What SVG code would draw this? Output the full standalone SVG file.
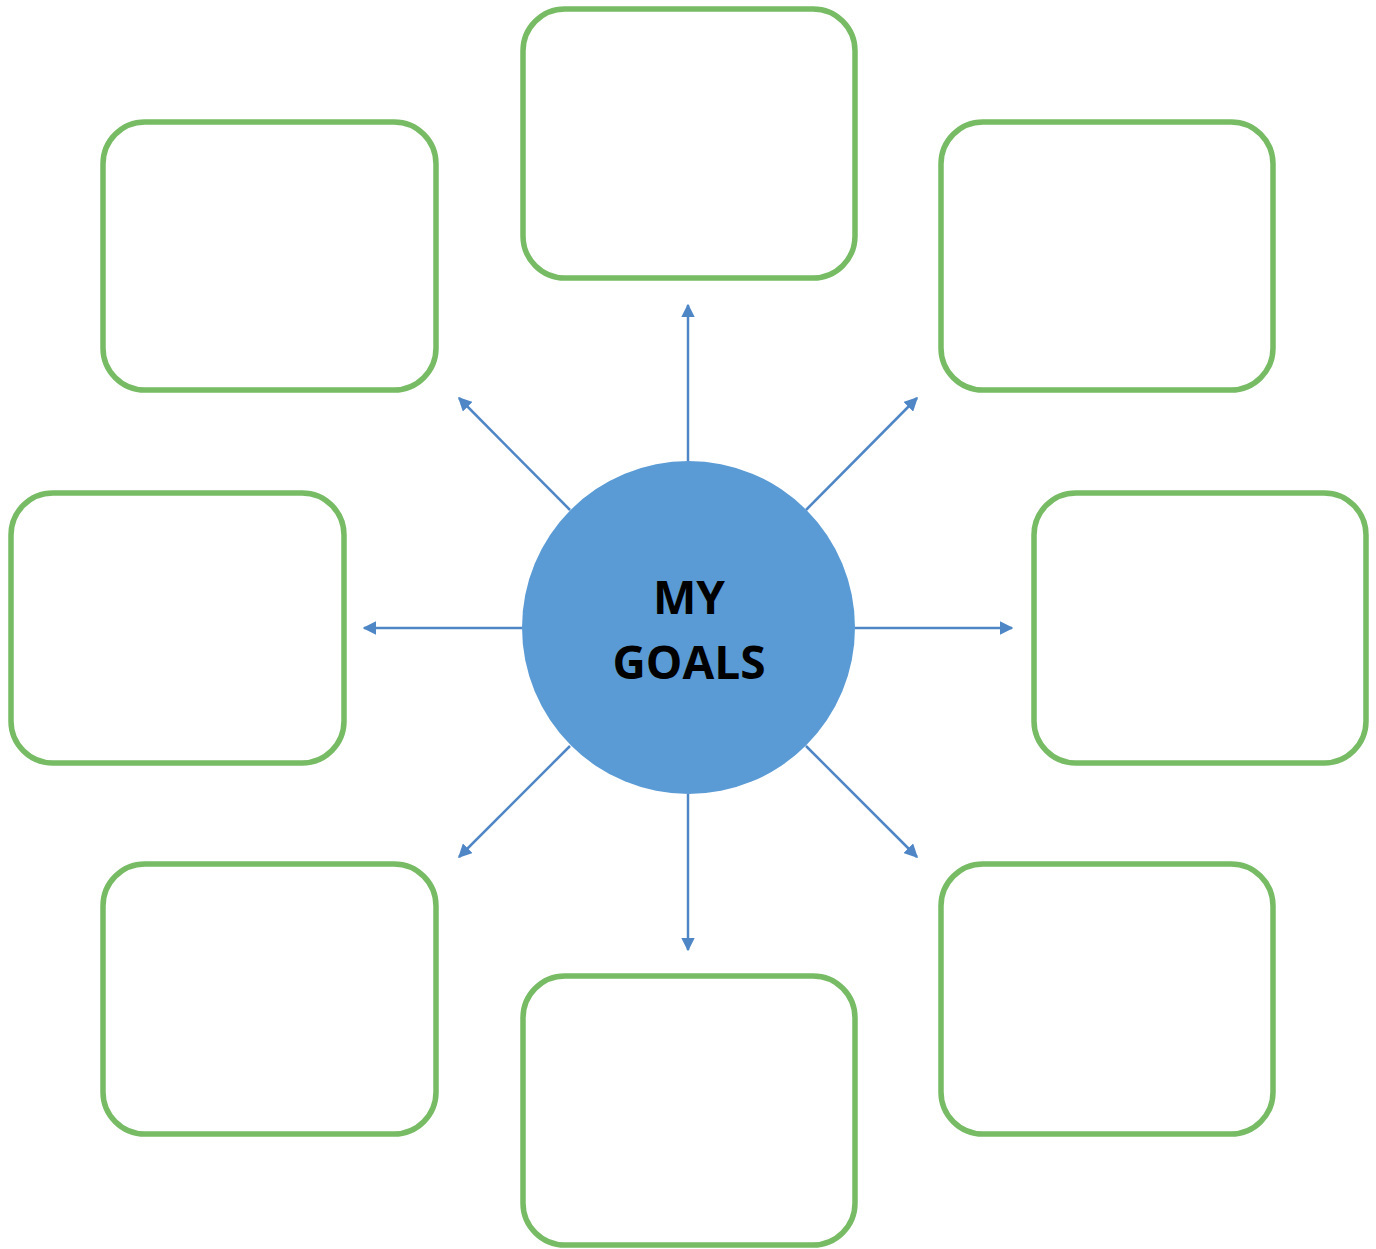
<svg xmlns="http://www.w3.org/2000/svg" width="1376" height="1249" viewBox="0 0 1376 1249">
<style>
.box{fill:#fff;stroke:#77bc65;stroke-width:5.5}
.arr{stroke:#4f86c6;stroke-width:2.5;fill:none;marker-end:url(#ah)}
.lbl{font-family:"Open Sans","Liberation Sans",sans-serif;font-weight:bold;font-size:46px;fill:#000;text-anchor:middle}
</style>
<defs>
<marker id="ah" viewBox="0 0 10 10" refX="9" refY="5" markerWidth="5.5" markerHeight="5.5" orient="auto" markerUnits="strokeWidth">
<path d="M0,0 L10,5 L0,10 z" fill="#4f86c6"/>
</marker>
</defs>
<rect width="1376" height="1249" fill="#fff"/>
<g id="connectors">
<line class="arr" x1="688" y1="461" x2="688" y2="305"/>
<line class="arr" x1="688" y1="794" x2="688" y2="950"/>
<line class="arr" x1="522" y1="628" x2="364" y2="628"/>
<line class="arr" x1="855" y1="628" x2="1012" y2="628"/>
<line class="arr" x1="570" y1="510" x2="459" y2="398"/>
<line class="arr" x1="806" y1="510" x2="917" y2="398"/>
<line class="arr" x1="570" y1="746" x2="459" y2="857"/>
<line class="arr" x1="806" y1="746" x2="917" y2="857"/>
</g>
<g id="box-top"><rect class="box" x="523" y="9" width="332" height="269" rx="42"/></g>
<g id="box-top-left"><rect class="box" x="103" y="122" width="333" height="268" rx="42"/></g>
<g id="box-top-right"><rect class="box" x="941" y="122" width="332" height="268" rx="42"/></g>
<g id="box-left"><rect class="box" x="11" y="493" width="333" height="270" rx="42"/></g>
<g id="box-right"><rect class="box" x="1034" y="493" width="332" height="270" rx="42"/></g>
<g id="box-bottom-left"><rect class="box" x="103" y="864" width="333" height="270" rx="42"/></g>
<g id="box-bottom-right"><rect class="box" x="941" y="864" width="332" height="270" rx="42"/></g>
<g id="box-bottom"><rect class="box" x="523" y="976" width="332" height="269" rx="42"/></g>
<g id="center">
<circle cx="688.5" cy="627.5" r="166.5" fill="#5b9bd5"/>
<text class="lbl" x="689" y="614">MY</text>
<text class="lbl" x="689" y="679">GOALS</text>
</g>
</svg>
